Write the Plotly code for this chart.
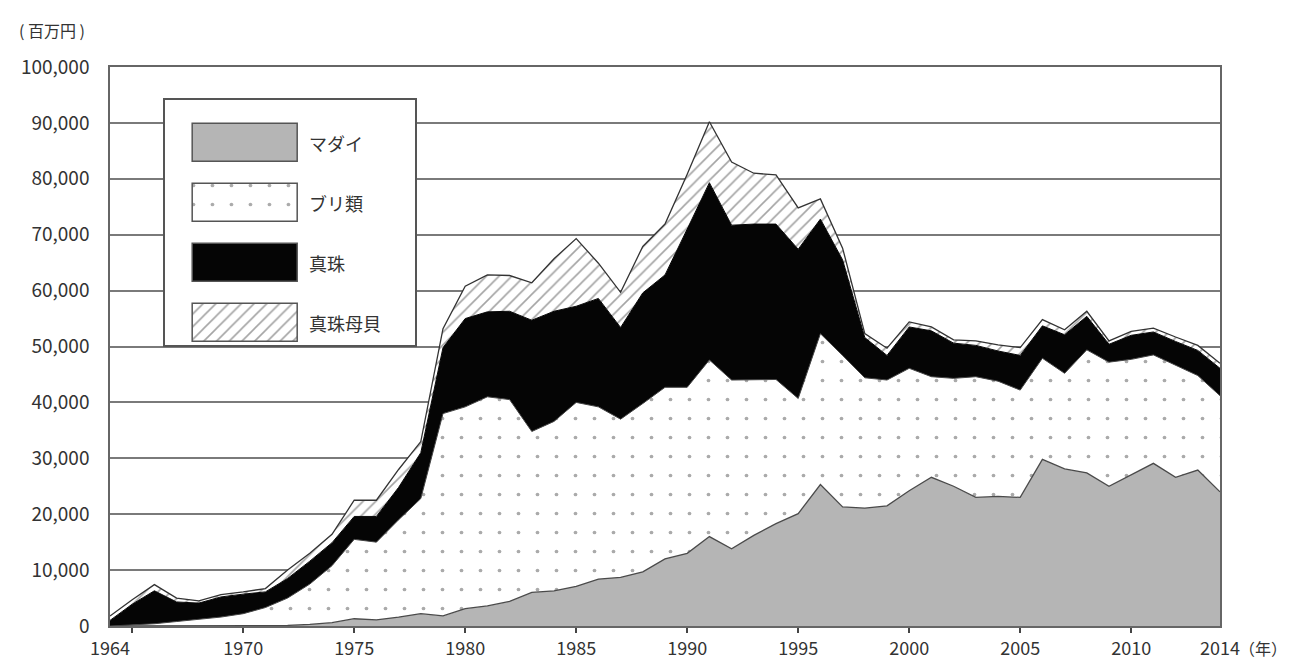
import plotly.graph_objects as go

years = list(range(1964, 2015))

# 単位：百万円
madai = [0, 0, 0, 0, 0, 0, 0, 0, 100, 300,
         600, 1300, 1100, 1600, 2200, 1800, 3100, 3600, 4400, 6000,
         6300, 7100, 8400, 8700, 9700, 12000, 13000, 16000, 13800, 16200,
         18300, 20100, 25300, 21300, 21100, 21500, 24200, 26600, 25000, 23000,
         23200, 23000, 29800, 28100, 27400, 25000, 27000, 29100, 26600, 27900,
         24000]
buri = [0, 200, 400, 800, 1200, 1600, 2200, 3300, 4900, 7200,
        10200, 14200, 13900, 17400, 20600, 36200, 36100, 37400, 36100, 28800,
        30300, 32900, 30800, 28300, 30100, 30700, 29700, 31600, 30200, 27800,
        25800, 20600, 27000, 27100, 23300, 22500, 21900, 18000, 19300, 21600,
        20600, 19200, 18100, 17100, 22000, 22200, 20700, 19400, 20100, 16900,
        17200]
shinju = [1000, 3700, 5900, 3500, 2900, 3600, 3500, 2800, 3500, 4100,
          4100, 4100, 4600, 5800, 8200, 11800, 15800, 15200, 15800, 19900,
          19700, 17200, 19400, 16400, 19800, 20100, 28300, 31700, 27700, 27900,
          27800, 26700, 20500, 17100, 7200, 4400, 7400, 8200, 6300, 5600,
          5400, 6200, 5800, 6900, 6000, 3200, 4300, 4100, 4200, 4500,
          4900]
bogai = [800, 800, 1100, 700, 400, 400, 400, 600, 1500, 1400,
         1500, 2900, 2900, 3200, 2000, 3400, 5800, 6600, 6400, 6700,
         9400, 12100, 6300, 6300, 8300, 9100, 9800, 10900, 11300, 9100,
         8800, 7400, 3600, 2100, 700, 1300, 900, 700, 600, 800,
         1100, 1400, 1100, 900, 900, 600, 700, 700, 800, 900,
         900]

names = ["マダイ", "ブリ類", "真珠", "真珠母貝"]
x_tickvals = [1964, 1970, 1975, 1980, 1985, 1990, 1995, 2000, 2005, 2010, 2014]
x_ticktext = [str(v) for v in x_tickvals]

FONT = "Noto Sans CJK JP"
TXT = "#333333"

styles = [
    dict(fillcolor="#b5b5b5", line=dict(color="#4a4a4a", width=1.3), pattern=None),
    dict(fillcolor="white", line=dict(color="#444444", width=1),
         pattern=dict(shape=".", fgcolor="#555555", bgcolor="white", size=19, solidity=0.03)),
    dict(fillcolor="#050505", line=dict(color="#050505", width=1), pattern=None),
    dict(fillcolor="white", line=dict(color="#333333", width=1.3),
         pattern=dict(shape="/", fgcolor="#4a4a4a", bgcolor="white", size=9, solidity=0.18)),
]

fig = go.Figure()
for name, vals, st in zip(names, [madai, buri, shinju, bogai], styles):
    kw = dict(x=years, y=vals, name=name, mode="lines", stackgroup="one",
              fillcolor=st["fillcolor"], line=st["line"], showlegend=False,
              hoverinfo="skip")
    if st["pattern"]:
        kw["fillpattern"] = st["pattern"]
    fig.add_trace(go.Scatter(**kw))

# legend drawn as an inset box with large swatches
leg_pos = [4, 3, 2, 1]
for name, pos, st in zip(names, leg_pos, styles):
    marker = dict(color=st["fillcolor"], line=dict(color="#555555", width=1.5))
    if st["pattern"]:
        marker["pattern"] = dict(st["pattern"])
    fig.add_trace(go.Bar(y=[pos], x=[4.2], base=[1.12], orientation="h", width=0.62,
                         marker=marker, xaxis="x2", yaxis="y2", showlegend=False,
                         hoverinfo="skip"))
    fig.add_annotation(x=5.7, y=pos, xref="x2", yref="y2", text=name, showarrow=False,
                       xanchor="left", yanchor="middle",
                       font=dict(family=FONT, size=18, color=TXT))

fig.update_layout(
    width=1289, height=662,
    margin=dict(l=110, r=69, t=67, b=36, autoexpand=False),
    paper_bgcolor="white", plot_bgcolor="white",
    font=dict(family=FONT, size=18, color=TXT),
    showlegend=False,
    bargap=0,
    xaxis=dict(range=[1964, 2014], tickvals=x_tickvals, ticktext=x_ticktext,
               ticks="", showgrid=False, zeroline=False, automargin=False,
               showline=True, mirror=True, linecolor="#666666", linewidth=1.5,
               tickfont=dict(size=18, color=TXT), ticklabelstandoff=6,
               minor=dict(tick0=1965, dtick=5, ticks="outside", ticklen=5,
                          tickcolor="#444444", tickwidth=1.5, showgrid=False)),
    yaxis=dict(range=[0, 100000], dtick=10000, tickformat=",", ticks="",
               showgrid=True, gridcolor="#7a7a7a", gridwidth=1.5, zeroline=False,
               automargin=False,
               showline=True, mirror=True, linecolor="#666666", linewidth=1.5,
               tickfont=dict(size=19, color=TXT), ticklabelstandoff=15),
    xaxis2=dict(domain=[0.0495, 0.2748], range=[0, 10], anchor="y2",
                showgrid=False, zeroline=False, showticklabels=False, ticks="",
                showline=True, mirror=True, linecolor="#555555", linewidth=1.5,
                fixedrange=True, automargin=False),
    yaxis2=dict(domain=[0.5027, 0.941], range=[0.633, 4.717], anchor="x2",
                showgrid=False, zeroline=False, showticklabels=False, ticks="",
                showline=True, mirror=True, linecolor="#555555", linewidth=1.5,
                fixedrange=True, automargin=False),
)

fig.add_annotation(x=-0.052, y=1.066, xref="paper", yref="paper", text="( 百万円 )",
                   showarrow=False, xanchor="center", yanchor="middle",
                   font=dict(family=FONT, size=16, color=TXT))
fig.add_annotation(x=1.0387, y=-0.040, xref="paper", yref="paper", text="（年）",
                   showarrow=False, xanchor="center", yanchor="middle",
                   font=dict(family=FONT, size=16, color=TXT))

fig.write_html("out.html", config={"displayModeBar": False},
               post_script="document.body.style.margin='0';document.body.style.overflow='hidden';")
